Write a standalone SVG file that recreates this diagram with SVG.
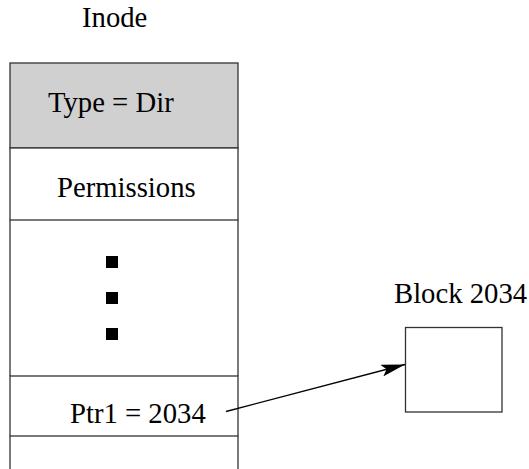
<svg xmlns="http://www.w3.org/2000/svg" width="529" height="469" viewBox="0 0 529 469">
<style>
text{font-family:"Liberation Serif","Times New Roman",serif;font-size:28.7px;fill:#000}
.cell{stroke:#333;stroke-width:1.3;fill:#fff}
.dot{fill:#000}
</style>
<defs>
<marker id="ah" viewBox="0 0 24 12" refX="24" refY="6" markerWidth="24" markerHeight="12" markerUnits="userSpaceOnUse" orient="auto">
<path d="M0,0 L24,6 L0,12 L5,6 Z" fill="#000"/>
</marker>
</defs>
<rect width="529" height="469" fill="#fff"/>
<g id="inode">
<text x="82" y="27">Inode</text>
<rect class="cell" x="10" y="63" width="228" height="85" style="fill:#d0d0d0"/>
<text x="48" y="112">Type = Dir</text>
<rect class="cell" x="10" y="148" width="228" height="72"/>
<text x="57" y="197">Permissions</text>
<path class="cell" d="M10,220 V376 M238,220 V376" fill="none"/>
<rect class="dot" x="106" y="256" width="12" height="12"/>
<rect class="dot" x="106" y="292" width="12" height="12"/>
<rect class="dot" x="106" y="328" width="12" height="12"/>
<rect class="cell" x="10" y="376" width="228" height="60"/>
<text x="70" y="423">Ptr1 = 2034</text>
<path class="cell" d="M10,436 V469 M238,436 V469" fill="none"/>
</g>
<g id="block">
<text x="394" y="303">Block 2034</text>
<rect class="cell" x="405.5" y="327.5" width="96.5" height="84.5"/>
</g>
<g id="connectors">
<line x1="226" y1="411.5" x2="405" y2="364.5" stroke="#000" stroke-width="1.3" marker-end="url(#ah)"/>
</g>
</svg>
